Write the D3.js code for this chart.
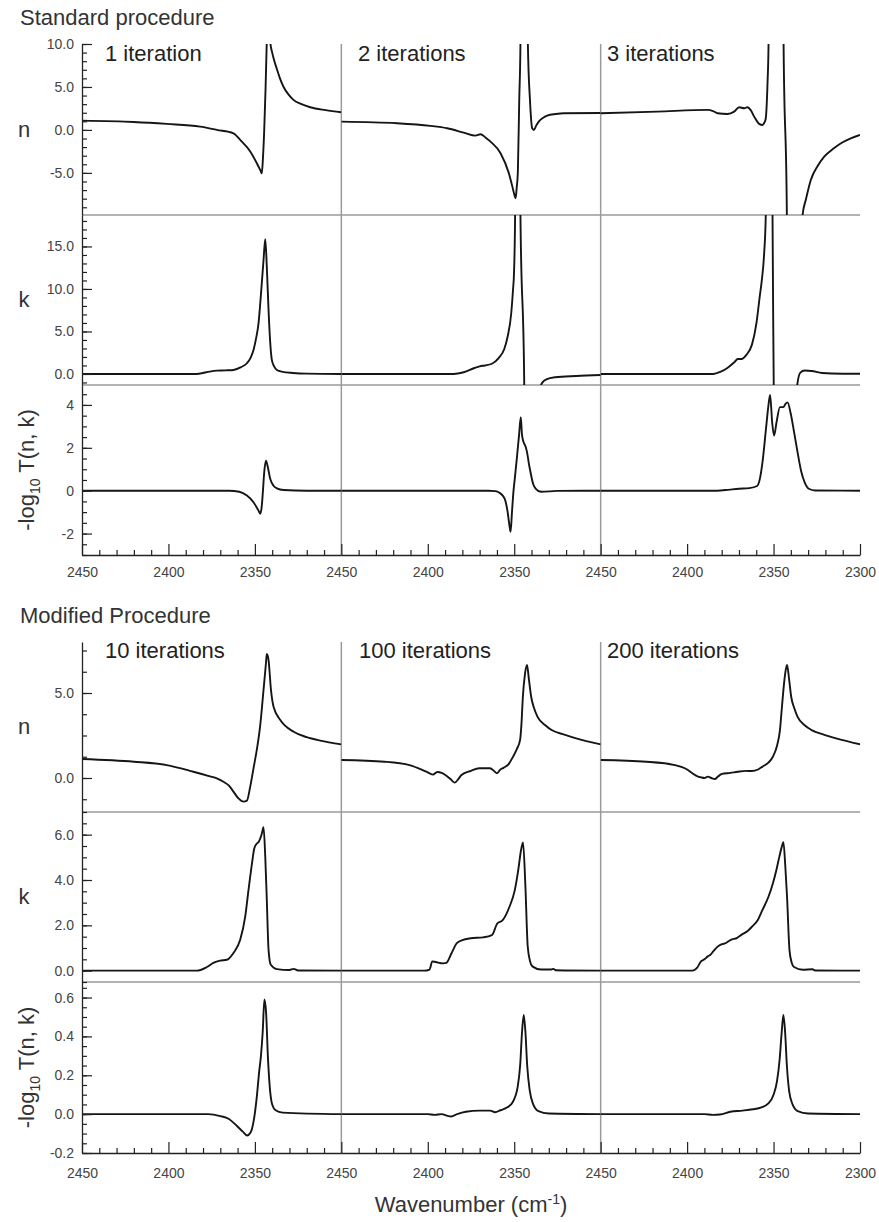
<!DOCTYPE html>
<html>
<head>
<meta charset="utf-8">
<script src="https://cdn.jsdelivr.net/npm/d3@7"></script>
<style>
    body { margin: 0; background: #fff; }
    svg text { font-family: "Liberation Sans", Arial, sans-serif; }
</style>
</head>
<body>
<svg id="chart" width="879" height="1222"></svg>
<script>

// ---- data: [wavenumber (cm-1), value] ----

// Standard procedure, n
var nStd1 = [[2450,1.08],[2420,0.93],[2401,0.7],[2381.7,0.38],[2372,0],[2362.4,-0.39],[2358.5,-1.16],[2352.7,-2.5],
    [2348.8,-3.9],[2346.6,-4.8],[2346,-5.05],[2345.4,-3.5],[2344.6,0],[2343.8,5],[2343.1,10.5],[2342.5,14],[2341.8,12.5],
    [2341.1,10.2],[2340,9.0],[2339,8.2],[2337.3,7.1],[2335.5,6.0],[2333.4,5.0],[2330.5,4.1],[2327.7,3.5],[2323,3.0],
    [2318,2.64],[2309,2.3],[2300,2.05]];
var nStd2 = [[2450,0.97],[2417.8,0.78],[2398.5,0.47],[2388.8,0.19],[2379.2,-0.31],[2372.4,-0.66],[2369.5,-0.5],[2366.5,-0.9],
    [2363.7,-1.36],[2357.9,-2.71],[2353.1,-5.04],[2350.6,-6.98],[2349.7,-7.7],[2349.2,-7.95],[2348.6,-6.8],[2347.9,-4.9],
    [2347.1,3.5],[2346.4,10],[2345.9,40],[2342.6,40],[2342.1,10],[2340.9,3.5],[2339.6,0.19],[2338.6,0],[2337.3,0.5],
    [2335.8,0.97],[2333,1.45],[2330.9,1.67],[2326,1.85],[2321.3,1.94],[2300,1.97]];
var nStd3 = [[2450,1.94],[2417.2,2.13],[2388.2,2.33],[2385,2.2],[2382.4,1.94],[2376.6,1.86],[2372.8,2.13],[2369.9,2.64],
    [2367,2.52],[2365.1,2.64],[2363.2,2.3],[2361.2,1.55],[2358.3,0.7],[2356.4,0.58],[2355.2,0.9],[2354.5,1.36],[2353.5,5.4],
    [2352.9,10],[2352.5,40],[2344.8,40],[2344.2,10],[2342.3,-9.9],[2341.9,-40],[2334,-40],[2333.2,-9.9],[2331.3,-8.1],
    [2328.4,-5.8],[2324.5,-4.2],[2320.7,-3.1],[2315.5,-2.2],[2311,-1.55],[2305,-0.95],[2300,-0.58]];

// Standard procedure, k
var kStd1 = [[2450,0],[2384,0],[2378,0.2],[2372,0.39],[2367,0.42],[2362.4,0.47],[2358,0.8],[2354.6,1.26],[2352.5,1.9],
    [2350.8,2.82],[2349.2,4.3],[2347.9,5.96],[2346.9,8.3],[2346,10.7],[2345,13.4],[2344,15.85],[2343.1,12.6],[2342.1,7.5],
    [2341.1,3.6],[2340.2,1.65],[2338.8,0.86],[2337.3,0.47],[2334,0.25],[2328,0.12],[2320,0.04],[2300,0]];
var kStd2 = [[2450,0],[2385.3,0],[2379.2,0.2],[2373,0.7],[2370,0.9],[2367,1.0],[2362.9,1.2],[2358.9,1.9],[2355.8,2.9],
    [2353.8,4.4],[2351.7,7.2],[2350.7,9.9],[2350.1,12],[2349.5,18.7],[2349.2,40],[2346.8,40],[2346.4,18.7],[2344.2,-1.3],
    [2344,-10],[2335,-10],[2334.5,-1.3],[2333,-0.85],[2331.4,-0.63],[2326.3,-0.39],[2314.2,-0.24],[2300,-0.12]];
var kStd3 = [[2450,0],[2384.9,0],[2380.8,0.24],[2376.7,0.71],[2372.7,1.37],[2370.7,1.76],[2368.6,1.76],[2365.6,2.27],
    [2362.5,3.45],[2359.9,5.98],[2358,9.1],[2356.8,11],[2355.5,14],[2354.5,18.7],[2354.2,40],[2350.8,40],[2350.6,18.7],
    [2349.9,-1.3],[2349.7,-10],[2336.6,-10],[2336.3,-1.3],[2334.5,0.16],[2332,0.4],[2328,0.35],[2321.9,0.12],[2310,0.03],[2300,0.02]];

// Standard procedure, -log10 T
var tStd1 = [[2450,0],[2365,0],[2359,-0.05],[2354.6,-0.23],[2350.8,-0.54],[2347.9,-0.93],[2346.9,-1.08],[2346,-0.7],
    [2345.4,-0.08],[2344.6,0.86],[2343.6,1.4],[2342.5,1.09],[2341.1,0.54],[2339.2,0.23],[2337.3,0.11],[2333.4,0.03],[2320,0],[2300,0]];
var tStd2 = [[2450,0],[2365,0],[2360.9,-0.02],[2358.5,-0.1],[2356.8,-0.22],[2355,-0.5],[2353.8,-1.0],[2352.8,-1.6],
    [2352.1,-1.92],[2351.3,-1.0],[2350.4,0],[2349.7,0.54],[2348.5,1.5],[2347.2,2.6],[2346.2,3.43],[2345.5,2.6],[2344.6,2.27],
    [2343.4,2.05],[2342.6,1.8],[2341.6,1.3],[2340.6,0.87],[2339,0.3],[2337.5,0.09],[2334.5,-0.05],[2325,-0.01],[2300,0]];
var tStd3 = [[2450,0],[2385,0],[2378,0.03],[2370,0.09],[2364,0.12],[2359.5,0.22],[2357.8,0.6],[2356.4,1.33],[2354.4,2.87],
    [2353,3.95],[2352,4.47],[2350.8,3.18],[2349.7,2.57],[2348.3,3.18],[2346.3,3.9],[2344.3,3.9],[2343.1,4.05],[2341.9,4.12],
    [2340.2,3.65],[2338.1,2.72],[2336.1,1.79],[2334.1,0.93],[2332,0.39],[2329.6,0.09],[2326,0.01],[2300,0]];

// Modified procedure, n
var nMod1 = [[2450,1.12],[2420,0.96],[2401,0.76],[2385.6,0.37],[2376,0.1],[2372,-0.02],[2368.2,-0.22],[2365,-0.45],
    [2362.4,-0.8],[2359.5,-1.2],[2356.6,-1.39],[2354.6,-1.33],[2352.7,-0.51],[2350.8,0.57],[2348.9,1.65],[2347,3.02],
    [2345,5.18],[2343.6,6.75],[2343.1,7.29],[2342.1,6.94],[2340.7,5.18],[2339.2,4.19],[2335.3,3.41],[2327.6,2.72],
    [2320,2.4],[2312.2,2.2],[2300,1.98]];
var nMod2 = [[2450,1.06],[2425,0.96],[2410.5,0.76],[2400.8,0.37],[2397,0.2],[2394.5,0.35],[2392,0.3],[2390.5,0.22],
    [2387,-0.05],[2384.5,-0.27],[2382,-0.02],[2380.5,0.18],[2375,0.42],[2370.3,0.57],[2364,0.57],[2361.5,0.4],[2360,0.28],
    [2358,0.5],[2356,0.61],[2353,0.85],[2350.7,1.25],[2348.5,1.7],[2346.6,2.24],[2345.8,3.2],[2345,4.78],[2343.8,6.1],
    [2342.6,6.65],[2341.5,5.8],[2340.2,4.78],[2338.5,4.1],[2336.5,3.6],[2332,3.1],[2328.4,2.82],[2321,2.55],[2314.2,2.33],[2300,1.98]];
var nMod3 = [[2450,1.06],[2423.5,0.96],[2407,0.76],[2400,0.5],[2397,0.28],[2394,0.1],[2392,0.04],[2390,0.0],[2388,0.08],
    [2386,0.0],[2384,-0.06],[2382,0.1],[2379.8,0.24],[2375,0.3],[2370.7,0.37],[2366,0.42],[2362.6,0.41],[2359,0.5],
    [2356.4,0.67],[2353,0.9],[2350.4,1.25],[2348,1.9],[2346.3,2.82],[2345.3,4.0],[2344.3,5.18],[2343.2,6.2],[2342.2,6.65],
    [2341,5.8],[2339.8,4.78],[2338,4.1],[2336.1,3.6],[2332,3.1],[2328,2.82],[2321,2.55],[2313.8,2.33],[2300,1.98]];

// Modified procedure, k
var kMod1 = [[2450,0],[2383.6,0],[2378,0.15],[2374,0.34],[2370.1,0.44],[2366.2,0.48],[2362.4,0.78],[2358.5,1.36],
    [2355.6,2.38],[2353.7,3.55],[2351.7,4.72],[2350.4,5.38],[2349,5.6],[2347.9,5.67],[2346,6.04],[2345,6.33],[2344,5.02],
    [2343.1,3.11],[2342.1,0.92],[2340.8,0.26],[2337.3,0.07],[2330,0.03],[2327.6,0.08],[2325,0.01],[2300,0]];
var kMod2 = [[2450,0],[2402,0],[2399,0.05],[2397.4,0.41],[2395.4,0.38],[2391,0.32],[2389.3,0.34],[2386.2,0.78],
    [2383.2,1.21],[2380,1.35],[2375.1,1.43],[2368,1.47],[2362.9,1.57],[2359.8,2.08],[2356.8,2.22],[2352.8,2.81],
    [2349.7,3.54],[2347.7,4.42],[2346.1,5.3],[2344.9,5.66],[2343.6,3.85],[2342.2,1.07],[2340.8,0.4],[2339.5,0.19],
    [2334.5,0.05],[2328.5,0.05],[2327.4,0.08],[2326,0.02],[2300,0]];
var kMod3 = [[2450,0],[2397,0],[2394,0.15],[2392,0.41],[2390,0.5],[2388,0.63],[2386.5,0.7],[2384.9,0.85],[2382.5,1.05],
    [2380.8,1.14],[2378,1.2],[2374.7,1.36],[2371,1.45],[2368.6,1.58],[2365,1.75],[2362.5,1.94],[2359,2.25],[2356.4,2.68],
    [2353,3.25],[2350.4,3.85],[2348.5,4.4],[2346.7,5.01],[2345.3,5.45],[2344.3,5.67],[2343.2,4.6],[2342.2,3.26],
    [2340.8,0.92],[2339.5,0.35],[2338.2,0.16],[2333,0.04],[2327.5,0.06],[2326,0.01],[2300,0]];

// Modified procedure, -log10 T
var tMod1 = [[2450,0],[2377,0],[2370,-0.01],[2365,-0.025],[2360.5,-0.06],[2357,-0.09],[2354.5,-0.11],[2352.5,-0.095],
    [2350.7,-0.035],[2349,0.08],[2347.5,0.22],[2346.5,0.3],[2345.5,0.42],[2344.5,0.59],[2343.5,0.52],[2342.5,0.3],
    [2341.2,0.12],[2340,0.05],[2338,0.02],[2334,0.008],[2300,0]];
var tMod2 = [[2450,0],[2400,0],[2396,-0.004],[2392,0],[2389,-0.008],[2386.5,-0.012],[2383,0],[2378,0.012],[2370,0.018],
    [2364,0.018],[2361,0.01],[2358,0.02],[2354,0.035],[2351,0.06],[2348,0.14],[2346.5,0.26],[2345.5,0.42],[2344.5,0.51],
    [2343.5,0.42],[2342.5,0.25],[2341,0.12],[2339,0.05],[2336,0.015],[2330,0.003],[2300,0]];
var tMod3 = [[2450,0],[2390,0],[2385,-0.004],[2381,-0.002],[2375,0.012],[2368,0.018],[2362,0.025],[2357,0.035],
    [2353,0.055],[2350,0.1],[2348,0.17],[2346.5,0.28],[2345.3,0.42],[2344.3,0.51],[2343.3,0.42],[2342.3,0.25],[2341,0.12],
    [2339,0.05],[2336,0.015],[2330,0.003],[2300,0]];

// labels and ticks
var stdIterations = ["1 iteration", "2 iterations", "3 iterations"];
var modIterations = ["10 iterations", "100 iterations", "200 iterations"];
var wnDomain = [2450, 2300];
var wnMajor = [2450, 2400, 2350, 2300];

var nStdTicks = [-5, 0, 5, 10];
var kStdTicks = [0, 5, 10, 15];
var tStdTicks = [-2, 0, 2, 4];
var nModTicks = [0, 5];
var kModTicks = [0, 2, 4, 6];
var tModTicks = [-0.2, 0, 0.2, 0.4, 0.6];


// hyphen minus like the original figure
var loc = d3.formatLocale({decimal: ".", thousands: ",", grouping: [3], currency: ["", ""], minus: "-"});
var f1 = loc.format(".1f"), f0 = loc.format("d");

var svg = d3.select("#chart");
var plotLeft = 82, plotRight = 860;
var colW = (plotRight - plotLeft) / 3;

var blocks = [
    {
        title: "Standard procedure", titleY: 25,
        iters: stdIterations, iterX: [105, 358, 607], iterY: 61,
        bottom: 555, labelPad: 12,
        rows: [
            {name: "n", top: 44, bottom: 215, domain: [-9.9, 10], ticks: nStdTicks, minor: d3.range(-9, 10.01, 1), fmt: f1, series: [nStd1, nStd2, nStd3]},
            {name: "k", top: 215, bottom: 385, domain: [-1.3, 18.7], ticks: kStdTicks, minor: d3.range(-1, 18.01, 1), fmt: f1, series: [kStd1, kStd2, kStd3]},
            {name: "T", top: 385, bottom: 555, domain: [-3, 4.93], ticks: tStdTicks, minor: d3.range(-3, 4.51, 0.5), fmt: f0, series: [tStd1, tStd2, tStd3]}
        ]
    },
    {
        title: "Modified Procedure", titleY: 623,
        iters: modIterations, iterX: [105, 359, 607], iterY: 658,
        bottom: 1153, labelPad: 15,
        rows: [
            {name: "n", top: 642, bottom: 812, domain: [-2, 8], ticks: nModTicks, minor: d3.range(-1.25, 7.51, 1.25), fmt: f1, series: [nMod1, nMod2, nMod3]},
            {name: "k", top: 812, bottom: 982, domain: [-0.5, 7], ticks: kModTicks, minor: d3.range(-0.5, 7.01, 0.5), fmt: f1, series: [kMod1, kMod2, kMod3]},
            {name: "T", top: 982, bottom: 1153, domain: [-0.2, 0.68], ticks: tModTicks, minor: d3.range(-0.2, 0.651, 0.05), fmt: f1, series: [tMod1, tMod2, tMod3]}
        ]
    }
];

var defs = svg.append("defs");

blocks.forEach(function (block, b) {

    var g = svg.append("g");
    var top = block.rows[0].top;

    // title
    g.append("text")
        .attr("x", 20).attr("y", block.titleY)
        .attr("font-size", 22).attr("fill", "#333")
        .text(block.title);

    var xScales = [0, 1, 2].map(function (c) {
        return d3.scaleLinear().domain(wnDomain)
            .range([plotLeft + c * colW, plotLeft + (c + 1) * colW]);
    });

    // grey separators
    [1, 2].forEach(function (c) {
        g.append("line")
            .attr("x1", plotLeft + c * colW).attr("x2", plotLeft + c * colW)
            .attr("y1", top).attr("y2", block.bottom)
            .attr("stroke", "#9a9a9a").attr("stroke-width", 1.5);
    });
    block.rows.slice(0, 2).forEach(function (row) {
        g.append("line")
            .attr("x1", plotLeft).attr("x2", plotRight)
            .attr("y1", row.bottom).attr("y2", row.bottom)
            .attr("stroke", "#9a9a9a").attr("stroke-width", 1.5);
    });

    block.rows.forEach(function (row, r) {
        var y = d3.scaleLinear().domain(row.domain).range([row.bottom, row.top]);

        row.series.forEach(function (data, c) {
            var x = xScales[c];
            var id = "clip-" + b + "-" + r + "-" + c;
            defs.append("clipPath").attr("id", id)
                .append("rect")
                .attr("x", x.range()[0]).attr("y", row.top)
                .attr("width", colW).attr("height", row.bottom - row.top);

            var line = d3.line()
                .x(function (d) { return x(d[0]); })
                .y(function (d) { return y(d[1]); })
                .curve(d3.curveMonotoneX);

            g.append("path")
                .datum(data)
                .attr("clip-path", "url(#" + id + ")")
                .attr("fill", "none")
                .attr("stroke", "#151515")
                .attr("stroke-width", 1.9)
                .attr("stroke-linejoin", "round")
                .attr("d", line);
        });

        // left axis: minor then major, ticks pointing inward
        var minorAxis = g.append("g")
            .attr("transform", "translate(" + plotLeft + ",0)")
            .call(d3.axisLeft(y).tickValues(row.minor).tickSize(-5).tickFormat(""));
        minorAxis.select(".domain").remove();

        var yAxis = g.append("g")
            .attr("transform", "translate(" + plotLeft + ",0)")
            .call(d3.axisLeft(y).tickValues(row.ticks).tickSize(-10).tickSizeOuter(0)
                .tickPadding(8).tickFormat(row.fmt));
        yAxis.selectAll("text").attr("font-size", 14).attr("fill", "#444")
            .style("font-family", "'Liberation Sans', Arial, sans-serif");

        // row label
        var mid = (row.top + row.bottom) / 2;
        if (row.name === "T") {
            var lab = g.append("text")
                .attr("transform", "translate(34," + mid + ") rotate(-90)")
                .attr("text-anchor", "middle")
                .attr("font-size", 22).attr("fill", "#333");
            lab.append("tspan").text("-log");
            lab.append("tspan").attr("font-size", 14).attr("dy", 6).text("10");
            lab.append("tspan").attr("dy", -6).text(" T(n, k)");
        } else {
            g.append("text")
                .attr("x", 24).attr("y", mid + 7)
                .attr("text-anchor", "middle")
                .attr("font-size", 22).attr("fill", "#333")
                .text(row.name);
        }
    });

    g.selectAll(".domain").attr("stroke", "#222").attr("stroke-width", 1.3);
    g.selectAll(".tick line").attr("stroke", "#222").attr("stroke-width", 1.2);

    // bottom axis per column
    xScales.forEach(function (x, c) {
        var majors = wnMajor.filter(function (v) { return c === 2 || v !== 2300; });
        var minors = d3.range(2440, 2300, -10).filter(function (v) { return v % 50 !== 0; });

        var mAxis = g.append("g")
            .attr("transform", "translate(0," + block.bottom + ")")
            .call(d3.axisBottom(x).tickValues(minors).tickSize(-5).tickFormat(""));
        mAxis.select(".domain").remove();

        var xAxis = g.append("g")
            .attr("transform", "translate(0," + block.bottom + ")")
            .call(d3.axisBottom(x).tickValues(majors).tickSize(-11).tickSizeOuter(0)
                .tickPadding(block.labelPad).tickFormat(f0));
        xAxis.selectAll("text").attr("font-size", 14).attr("fill", "#444")
            .style("font-family", "'Liberation Sans', Arial, sans-serif");
        xAxis.select(".domain").attr("stroke", "#222").attr("stroke-width", 1.3);
        mAxis.selectAll("line").attr("stroke", "#222").attr("stroke-width", 1.2);
        xAxis.selectAll("line").attr("stroke", "#222").attr("stroke-width", 1.2);
    });

    // iteration labels
    block.iters.forEach(function (label, c) {
        g.append("text")
            .attr("x", block.iterX[c]).attr("y", block.iterY)
            .attr("font-size", 22).attr("fill", "#222")
            .text(label);
    });
});

// x-axis title
var xt = svg.append("text")
    .attr("x", (plotLeft + plotRight) / 2).attr("y", 1212)
    .attr("text-anchor", "middle")
    .attr("font-size", 22).attr("fill", "#333");
xt.append("tspan").text("Wavenumber (cm");
xt.append("tspan").attr("font-size", 14).attr("dy", -8).text("-1");
xt.append("tspan").attr("dy", 8).text(")");

</script>
</body>
</html>
